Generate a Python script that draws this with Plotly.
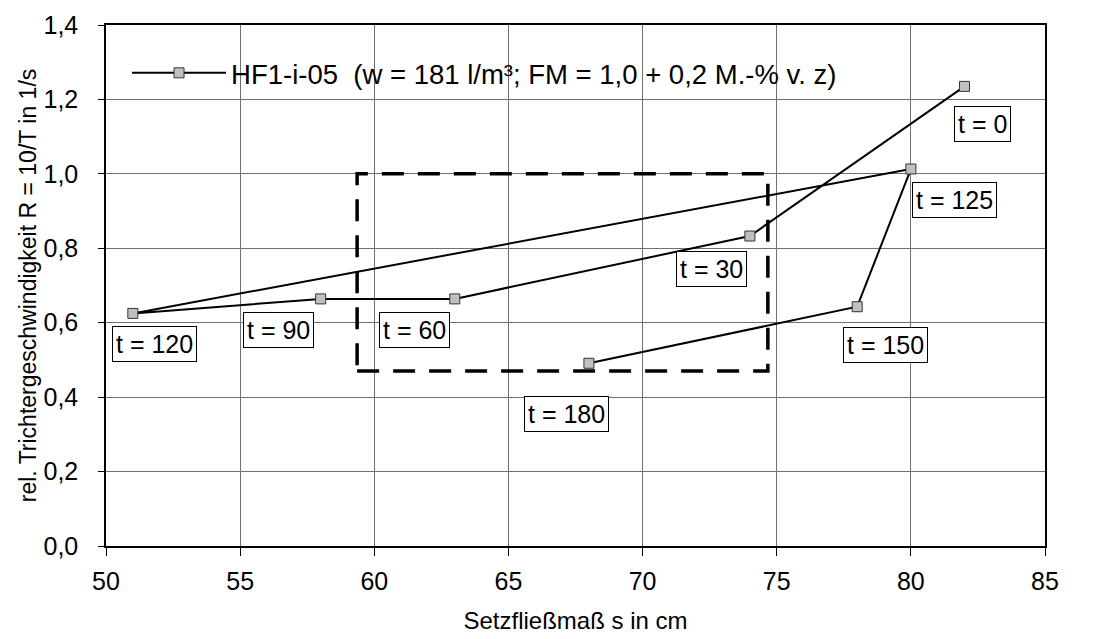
import plotly.graph_objects as go

# Data
s_cm = [82, 74, 63, 58, 51, 80, 78, 68]
R_values = [1.235, 0.833, 0.664, 0.664, 0.625, 1.013, 0.643, 0.491]
t_labels = ["t = 0", "t = 30", "t = 60", "t = 90", "t = 120", "t = 125", "t = 150", "t = 180"]
series_name = "HF1-i-05  (w = 181 l/m³; FM = 1,0 + 0,2 M.-% v. z)"

# label offsets (pixels) relative to their points
label_dx = [18, -38, -40, -42, 22, 44, 28, -22]
label_dy = [-38, -33, -31, -31, -31, -31, -38, -51]

# highlighted region (dashed rectangle)
rect_x = [59.36, 74.67]
rect_y = [0.47, 1.0]

x_ticks = [50, 55, 60, 65, 70, 75, 80, 85]
y_ticks = [0.0, 0.2, 0.4, 0.6, 0.8, 1.0, 1.2, 1.4]

FONT = "Liberation Sans, Arial, sans-serif"

fig = go.Figure()
fig.add_trace(go.Scatter(
    x=s_cm, y=R_values, mode="lines+markers", name=series_name,
    line=dict(color="black", width=2),
    marker=dict(symbol="square", size=10, color="#c0c0c0",
                line=dict(color="#333333", width=1)),
))

# white area behind legend, covering gridlines
fig.add_shape(type="rect", xref="paper", yref="paper",
              x0=0.0256, x1=0.790, y0=0.8438, y1=0.9676,
              fillcolor="white", line=dict(width=0), layer="between")

fig.add_shape(type="rect", xref="x", yref="y",
              x0=rect_x[0], x1=rect_x[1], y0=rect_y[0], y1=rect_y[1],
              line=dict(color="black", width=3.5, dash="22px,14px"),
              fillcolor="rgba(0,0,0,0)", layer="above")

for xv, yv, txt, dx, dy in zip(s_cm, R_values, t_labels, label_dx, label_dy):
    fig.add_annotation(x=xv, y=yv, text=txt, showarrow=False,
                       xshift=dx, yshift=dy,
                       font=dict(family=FONT, size=25, color="black"),
                       bgcolor="white", bordercolor="black", borderwidth=1, borderpad=3)

fig.update_layout(
    width=1099, height=639,
    margin=dict(l=98, r=62, t=17, b=101, autoexpand=False),
    paper_bgcolor="white", plot_bgcolor="white",
    font=dict(family=FONT, size=25, color="black"),
    separators=", ",
    showlegend=True,
    legend=dict(x=0.0224, y=0.955, xanchor="left", yanchor="top",
                bgcolor="rgba(255,255,255,0)", borderwidth=0,
                font=dict(family=FONT, size=27.5), itemwidth=94),
    xaxis=dict(range=[50, 85], tickvals=x_ticks, ticks="outside", ticklen=8,
               tickcolor="black", showgrid=True, gridcolor="#707070", gridwidth=1,
               showline=True, linecolor="black", linewidth=1.5, mirror=True,
               zeroline=False, ticklabelstandoff=4, automargin=False,
               ticklabeloverflow="allow",
               title=dict(text="Setzfließmaß s in cm", font=dict(size=24), standoff=18)),
    yaxis=dict(range=[0, 1.4], tickvals=y_ticks, tickformat=".1f", ticks="outside",
               ticklen=6, tickcolor="black", showgrid=True, gridcolor="#707070",
               gridwidth=1, showline=True, linecolor="black", linewidth=1.5,
               mirror=True, zeroline=False, ticklabelstandoff=15, automargin=False,
               ticklabeloverflow="allow",
               title=dict(text="rel. Trichtergeschwindigkeit R = 10/T in 1/s",
                          font=dict(size=23), standoff=0)),
)

fig.write_html("out.html")
